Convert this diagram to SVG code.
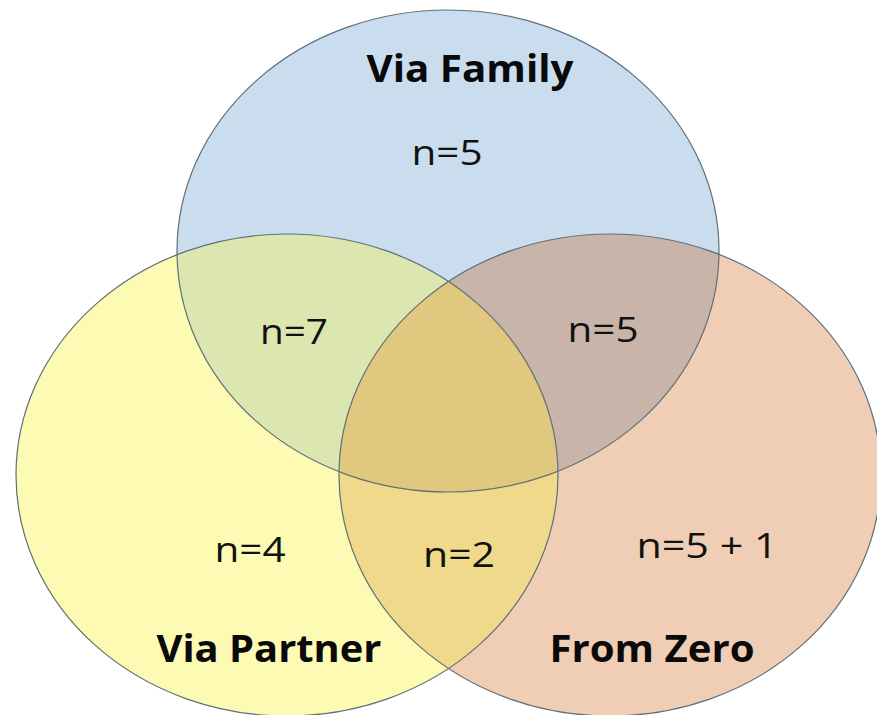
<svg xmlns="http://www.w3.org/2000/svg" width="877" height="715" viewBox="0 0 877 715">
  <style>
    .ring { fill: none; stroke: #5f7078; stroke-width: 1.2; }
    .lbl { font-family: "Open Sans", "Liberation Sans", sans-serif; font-size: 34px; fill: #111; text-anchor: middle; }
    .ttl { font-family: "Open Sans", "Liberation Sans", sans-serif; font-size: 37px; font-weight: bold; fill: #0a0a0a; text-anchor: middle; }
  </style>
  <defs>
    <ellipse id="eB" cx="448" cy="251" rx="271" ry="241"/>
    <ellipse id="eY" cx="287" cy="475" rx="271" ry="241"/>
    <ellipse id="eO" cx="610" cy="475" rx="271" ry="241"/>
    <clipPath id="cB"><use href="#eB"/></clipPath>
    <clipPath id="cY"><use href="#eY"/></clipPath>
  </defs>
  <rect width="877" height="715" fill="#ffffff"/>
  <g id="fills">
    <use href="#eB" fill="#c9ddef"/>
    <use href="#eY" fill="#fdfab3"/>
    <use href="#eO" fill="#f0cdb5"/>
    <use href="#eY" fill="#dce6b0" clip-path="url(#cB)"/>
    <use href="#eO" fill="#c9b4aa" clip-path="url(#cB)"/>
    <use href="#eO" fill="#f0d98a" clip-path="url(#cY)"/>
    <g clip-path="url(#cB)"><use href="#eO" fill="#e0c87e" clip-path="url(#cY)"/></g>
  </g>
  <g id="node-family">
    <use href="#eB" class="ring"/>
    <text class="ttl" x="470" y="82" textLength="207" lengthAdjust="spacingAndGlyphs">Via Family</text>
    <text class="lbl" x="447" y="165" textLength="71" lengthAdjust="spacingAndGlyphs">n=5</text>
  </g>
  <g id="node-partner">
    <use href="#eY" class="ring"/>
    <text class="ttl" x="269" y="662" textLength="225" lengthAdjust="spacingAndGlyphs">Via Partner</text>
    <text class="lbl" x="250" y="562" textLength="71" lengthAdjust="spacingAndGlyphs">n=4</text>
  </g>
  <g id="node-zero">
    <use href="#eO" class="ring"/>
    <text class="ttl" x="652" y="662" textLength="205" lengthAdjust="spacingAndGlyphs">From Zero</text>
    <text class="lbl" x="707" y="558" textLength="141" lengthAdjust="spacingAndGlyphs">n=5 + 1</text>
  </g>
  <g id="overlaps">
    <text class="lbl" x="294" y="344" textLength="68" lengthAdjust="spacingAndGlyphs">n=7</text>
    <text class="lbl" x="603" y="342" textLength="71" lengthAdjust="spacingAndGlyphs">n=5</text>
    <text class="lbl" x="459" y="567" textLength="72" lengthAdjust="spacingAndGlyphs">n=2</text>
  </g>
  <g id="connectors"/>
</svg>
